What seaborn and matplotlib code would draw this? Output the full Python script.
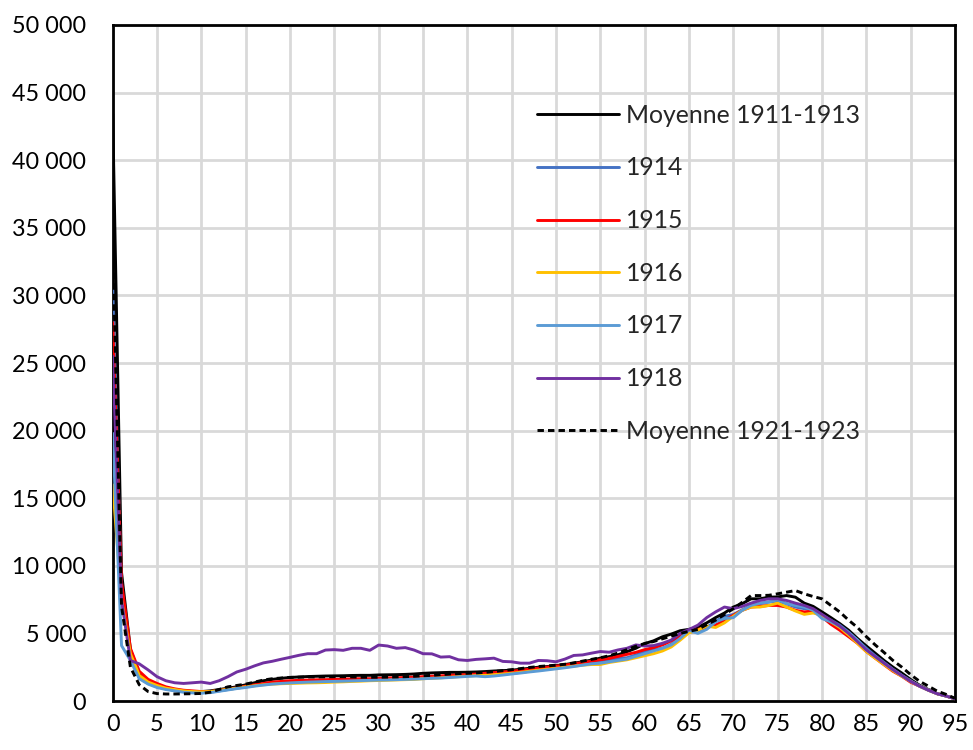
import numpy as np
import pandas as pd
import matplotlib
matplotlib.use("Agg")
import matplotlib.pyplot as plt
import seaborn as sns
from matplotlib.ticker import FuncFormatter, MultipleLocator

ages = list(range(0, 96))

moy_1911_1913 = [43400, 9500, 3800, 2000, 1350, 1100, 900, 800, 750, 700,
                 700, 750, 850, 950, 1050, 1200, 1350, 1500, 1600, 1680,
                 1740, 1780, 1810, 1830, 1850, 1860, 1870, 1890, 1900, 1900,
                 1930, 1940, 1950, 1970, 2000, 2050, 2080, 2100, 2120, 2120,
                 2130, 2150, 2180, 2220, 2250, 2280, 2350, 2420, 2500, 2550,
                 2620, 2700, 2800, 2900, 3030, 3170, 3280, 3420, 3650, 3900,
                 4250, 4450, 4750, 4950, 5200, 5300, 5450, 5780, 6170, 6510,
                 6950, 7200, 7560, 7560, 7680, 7700, 7800, 7680, 7240, 7000,
                 6590, 6170, 5730, 5240, 4630, 4070, 3540, 3000, 2510, 2070,
                 1590, 1170, 850, 540, 370, 170]

y1914 = [30400, 8000, 3300, 1700, 1300, 1050, 900, 800, 720, 650,
         620, 650, 750, 850, 950, 1050, 1150, 1250, 1300, 1350,
         1400, 1430, 1450, 1470, 1480, 1500, 1510, 1530, 1550, 1560,
         1580, 1600, 1620, 1640, 1660, 1700, 1730, 1760, 1800, 1840,
         1880, 1900, 1850, 1900, 1980, 2050, 2120, 2200, 2300, 2380,
         2450, 2550, 2650, 2750, 2850, 2900, 3000, 3150, 3200, 3400,
         3650, 3800, 3900, 4200, 4760, 5100, 5120, 5450, 5900, 6270,
         6400, 6750, 7070, 7200, 7320, 7390, 7200, 6950, 6830, 6780,
         6340, 5980, 5610, 5100, 4500, 3900, 3350, 2850, 2350, 1900,
         1500, 1120, 820, 550, 370, 170]

y1915 = [28000, 8800, 3900, 2200, 1600, 1300, 1050, 900, 800, 750,
         700, 700, 780, 880, 980, 1100, 1200, 1300, 1400, 1450,
         1500, 1530, 1550, 1570, 1580, 1600, 1620, 1640, 1650, 1650,
         1680, 1700, 1720, 1740, 1760, 1800, 1830, 1860, 1900, 1930,
         1950, 2000, 2050, 2100, 2150, 2200, 2280, 2350, 2430, 2500,
         2580, 2650, 2750, 2850, 2950, 3050, 3150, 3300, 3450, 3600,
         3800, 3950, 4150, 4450, 4800, 5120, 5300, 5440, 5610, 5980,
         6340, 6710, 6950, 7000, 7070, 7070, 6950, 6710, 6590, 6660,
         6220, 5680, 5240, 4760, 4270, 3660, 3170, 2680, 2200, 1830,
         1390, 1100, 800, 540, 370, 170]

y1916 = [16000, 7500, 3500, 1900, 1400, 1150, 950, 850, 750, 700,
         680, 700, 780, 870, 950, 1050, 1130, 1200, 1250, 1280,
         1300, 1320, 1340, 1350, 1370, 1400, 1420, 1450, 1470, 1500,
         1520, 1540, 1560, 1580, 1600, 1650, 1680, 1720, 1760, 1800,
         1850, 1880, 1900, 1950, 2000, 2050, 2120, 2200, 2280, 2350,
         2420, 2500, 2580, 2650, 2700, 2700, 2850, 2950, 3050, 3200,
         3350, 3500, 3700, 4000, 4500, 5050, 5240, 5540, 5440, 5780,
         6270, 6710, 6950, 6950, 7070, 7240, 6950, 6660, 6410, 6510,
         6340, 5860, 5440, 4880, 4270, 3660, 3170, 2700, 2250, 1830,
         1460, 1100, 800, 540, 370, 170]

y1917 = [19800, 4100, 3000, 1650, 1250, 1000, 850, 750, 650, 600,
         580, 620, 720, 820, 920, 1000, 1100, 1180, 1250, 1300,
         1340, 1370, 1400, 1420, 1440, 1450, 1470, 1490, 1510, 1530,
         1550, 1560, 1580, 1600, 1620, 1650, 1680, 1700, 1740, 1780,
         1820, 1850, 1800, 1850, 1920, 2000, 2070, 2150, 2220, 2300,
         2380, 2460, 2550, 2650, 2750, 2800, 2900, 3000, 3100, 3300,
         3500, 3700, 3900, 4150, 4630, 5250, 5000, 5300, 5860, 6100,
         6170, 6710, 7070, 7240, 7320, 7490, 7200, 7070, 6950, 6710,
         6100, 5860, 5540, 5050, 4510, 3780, 3290, 2800, 2320, 1880,
         1460, 1100, 800, 540, 370, 170]

y1918 = [25500, 7500, 3000, 2750, 2300, 1800, 1500, 1350, 1300, 1350,
         1400, 1300, 1500, 1800, 2150, 2350, 2600, 2820, 2940, 3090,
         3230, 3380, 3500, 3500, 3770, 3800, 3750, 3900, 3900, 3750,
         4140, 4070, 3900, 3950, 3770, 3500, 3490, 3250, 3280, 3050,
         3000, 3080, 3120, 3170, 2930, 2900, 2800, 2800, 3000, 2980,
         2900, 3100, 3370, 3410, 3540, 3660, 3610, 3780, 3900, 4150,
         4070, 4100, 4270, 4510, 5000, 5290, 5610, 6170, 6590, 6950,
         6830, 7000, 7240, 7440, 7560, 7560, 7440, 7240, 7070, 6830,
         6410, 5980, 5540, 5000, 4390, 3780, 3290, 2800, 2320, 1880,
         1460, 1100, 800, 540, 370, 170]

moy_1921_1923 = [34000, 7000, 2500, 1200, 700, 550, 520, 520, 530, 540,
                 560, 650, 850, 1050, 1150, 1250, 1400, 1550, 1650, 1700,
                 1750, 1760, 1780, 1780, 1790, 1800, 1800, 1780, 1760, 1760,
                 1760, 1770, 1780, 1800, 1830, 1870, 1900, 1950, 2000, 2030,
                 2050, 2080, 2120, 2180, 2250, 2320, 2400, 2480, 2550, 2600,
                 2650, 2720, 2820, 2950, 3080, 3200, 3350, 3550, 3800, 4050,
                 4250, 4400, 4600, 4800, 5000, 5150, 5300, 5650, 5980, 6400,
                 6830, 7300, 7800, 7800, 7820, 7930, 8050, 8170, 7930, 7730,
                 7560, 7070, 6590, 5980, 5440, 4760, 4150, 3590, 3000, 2510,
                 1950, 1460, 1100, 730, 490, 200]

labels = ["Moyenne 1911-1913", "1914", "1915", "1916", "1917", "1918", "Moyenne 1921-1923"]
colors = ["#000000", "#4472C4", "#FF0000", "#FFC000", "#5B9BD5", "#7030A0", "#000000"]
series = [moy_1911_1913, y1914, y1915, y1916, y1917, y1918, moy_1921_1923]

sns.set_theme(style="white")
plt.rcParams['font.family'] = ['Lato', 'DejaVu Sans']

fig = plt.figure(figsize=(9.73, 7.5), dpi=100)
ax = fig.add_axes([0.1158, 0.0653, 0.8657, 0.9014])

for lab, col, vals in zip(labels, colors, series):
    df = pd.DataFrame({"age": ages, "val": vals})
    ls = (0, (2.2, 1.4)) if lab == "Moyenne 1921-1923" else "-"
    sns.lineplot(data=df, x="age", y="val", ax=ax, color=col, linewidth=2.1,
                 linestyle=ls, label=lab, zorder=3)

ax.set_xlim(0, 95)
ax.set_ylim(0, 50000)
ax.xaxis.set_major_locator(MultipleLocator(5))
ax.yaxis.set_major_locator(MultipleLocator(5000))
ax.yaxis.set_major_formatter(FuncFormatter(lambda v, p: f"{int(v):,}".replace(",", " ")))
ax.set_xlabel("")
ax.set_ylabel("")
ax.grid(True, color="#d9d9d9", linewidth=2.0, zorder=0)
ax.set_axisbelow(True)
for s in ax.spines.values():
    s.set_color("black")
    s.set_linewidth(2.0)
ax.tick_params(axis="both", direction="in", length=7, width=2, color="black",
               labelsize=16.8, labelcolor="black")
ax.tick_params(axis="y", pad=19)
ax.tick_params(axis="x", pad=9)

leg = ax.legend(loc="upper left", bbox_to_anchor=(0.492, 0.898), frameon=False,
                fontsize=17.8, handlelength=3.3, handletextpad=0.3,
                labelspacing=1.2, borderaxespad=0)
for line in leg.get_lines():
    line.set_linewidth(2.1)

fig.savefig("out.png", dpi=100)
